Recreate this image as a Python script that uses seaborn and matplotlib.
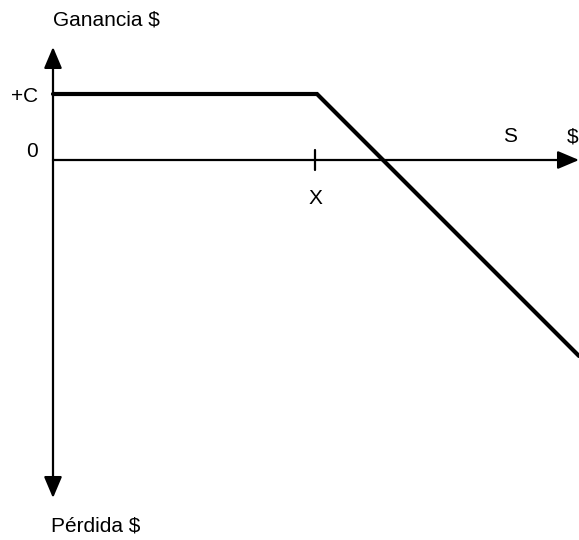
import matplotlib
matplotlib.use("Agg")
import matplotlib.pyplot as plt
import seaborn as sns
import pandas as pd

sns.set_theme(style="white")
plt.rcParams["font.family"] = ["Liberation Sans", "DejaVu Sans"]
plt.rcParams["text.color"] = "black"

# Short call payoff: premium C kept up to the strike X, then falling one-for-one with S
spot = [0, 264, 526]
payoff = [66, 66, -196]
strike = 264
premium = 66

# axis extents (arrow tips)
axis_top = 113
axis_bottom = -338
axis_right = 526

fig = plt.figure(figsize=(5.79, 5.40), dpi=100)
ax = fig.add_axes([0, 0, 1, 1])
ax.set_xlim(-53, 526)
ax.set_ylim(-380, 160)
ax.axis("off")

arrow = dict(arrowstyle="-|>,head_length=1.3,head_width=0.55", color="black",
             lw=1.6, shrinkA=0, shrinkB=0, mutation_scale=10)
ax.annotate("", xy=(0, axis_top), xytext=(0, 0), arrowprops=arrow)
ax.annotate("", xy=(0, axis_bottom), xytext=(0, 0), arrowprops=arrow)
ax.annotate("", xy=(axis_right, 0), xytext=(0, 0), arrowprops=arrow)

# strike tick
ax.plot([strike - 2, strike - 2], [-10, 10], color="black", lw=1.6)

df = pd.DataFrame({"S": spot, "payoff": payoff})
sns.lineplot(data=df, x="S", y="payoff", ax=ax, color="black", lw=3.0,
             solid_joinstyle="miter")

fs = 15
ax.text(-15, premium - 2, "+C", ha="right", va="center", fontsize=fs)
ax.text(-15, 8.5, "0", ha="right", va="center", fontsize=fs)
ax.text(strike - 2, -38, "X", ha="center", va="center", fontsize=fs)
ax.text(457, 23, "S", ha="center", va="center", fontsize=fs)
ax.text(520, 23, "$", ha="center", va="center", fontsize=fs)
ax.text(53, 140, "Ganancia $", ha="center", va="center", fontsize=fs)
ax.text(43, -366, "Pérdida $", ha="center", va="center", fontsize=fs)

fig.savefig("out.png", dpi=100)
